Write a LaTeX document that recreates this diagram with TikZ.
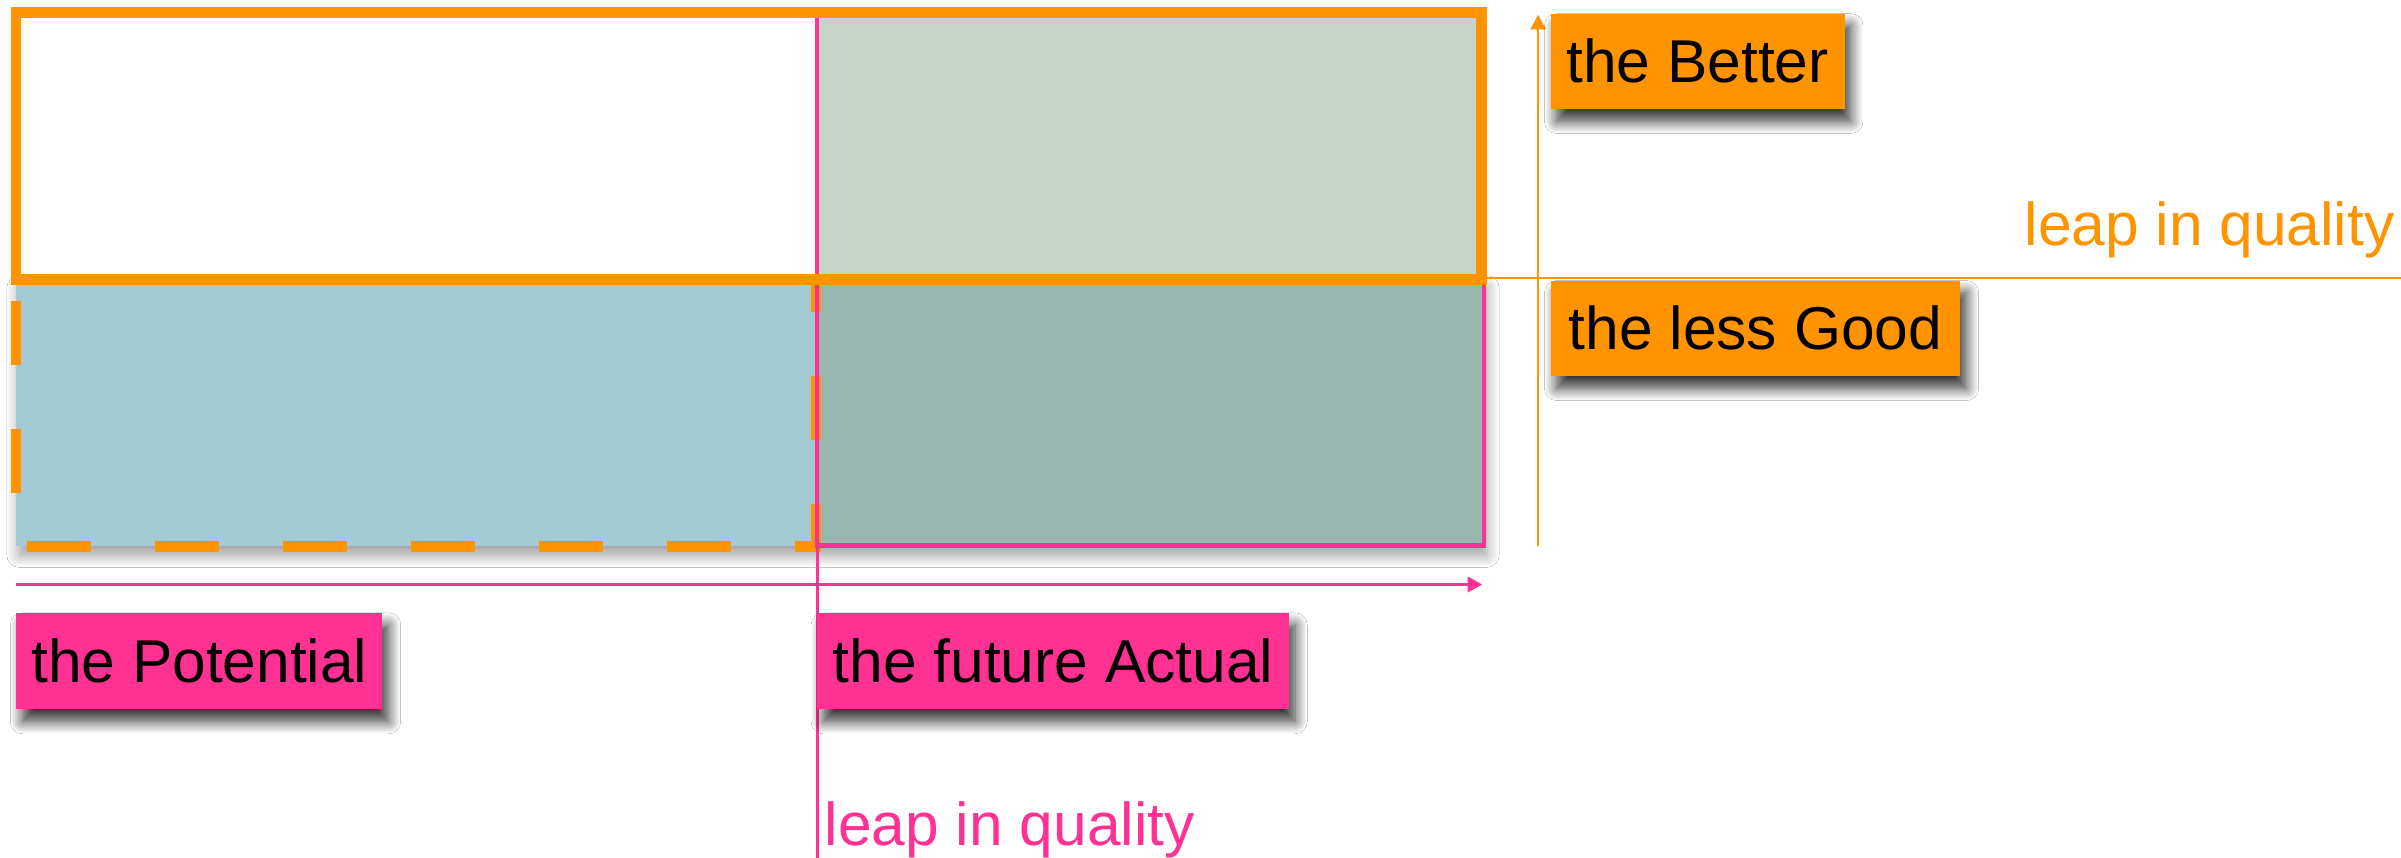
\documentclass[tikz,border=0pt]{standalone}
\usepackage{fontspec}
\setmainfont{Liberation Sans}
\usetikzlibrary{arrows.meta,shadows.blur}
\definecolor{qorange}{RGB}{255,148,0}
\definecolor{qpink}{RGB}{255,50,148}
\definecolor{qblue}{RGB}{163,202,211}
\definecolor{qgrey}{RGB}{200,211,199}
\definecolor{qgreen}{RGB}{152,184,175}
\begin{document}
\begin{tikzpicture}[x=1pt,y=-1pt,
  lab/.style={font=\fontsize{39.5}{47}\selectfont, text=black, inner sep=0pt, anchor=north west,
    blur shadow={shadow xshift=4pt, shadow yshift=-8pt, shadow blur radius=8pt, shadow blur steps=12, shadow opacity=80}},
  olab/.style={lab, fill=qorange},
  plab/.style={lab, fill=qpink},
  thinline/.style={line width=1.5pt},
  tip/.style={-{Triangle[length=9.5pt,width=10pt]}},
  qual/.style={font=\fontsize{39.5}{47}\selectfont, inner sep=0pt}]
\useasboundingbox (0,0) rectangle (1568,560.3);
\fill[white] (0,0) rectangle (1568,560.3);
% quadrant fills
\fill[qgrey] (533,8) rectangle (967,182);
\path[fill=qblue, blur shadow={shadow xshift=2pt, shadow yshift=-6pt, shadow blur radius=8pt, shadow blur steps=12, shadow opacity=40}]
  (10.5,182) rectangle (969,356.5);
\fill[qgreen] (533,182) rectangle (969,356.5);
% dashed orange rectangle (potential)
\draw[qorange, line width=6.8pt, dash pattern=on 41.6pt off 42pt, dash phase=20.6pt]
  (533,182.5) -- (533,356.9) -- (10.5,356.9) -- (10.5,182.5) -- cycle;
% pink rectangle (future actual)
\draw[qpink, line width=3pt] (533.5,9) rectangle (969,356.2);
% solid orange rectangle (better)
\draw[qorange, line width=6.8pt] (10.5,8.2) rectangle (967.5,182.5);
% axes
\coordinate (pv1) at (534,357.5);
\coordinate (pv2) at (534,560.3);
\draw[qpink, line width=1.7pt] (pv1) -- (pv2);
\coordinate (ph1) at (10.5,381.7);
\coordinate (ph2) at (968,381.7);
\draw[qpink, thinline, tip] (ph1) -- (ph2);
\coordinate (ov1) at (1004.5,356.5);
\coordinate (ov2) at (1004.5,9.7);
\draw[qorange, thinline, tip] (ov1) -- (ov2);
\coordinate (oh1) at (970,181.4);
\coordinate (oh2) at (1568,181.4);
\draw[qorange, thinline] (oh1) -- (oh2);
% labels
\node[olab, minimum width=192pt, minimum height=62.3pt] (better) at (1012.4,8.7) {the Better};
\node[olab, minimum width=267.6pt, minimum height=62.4pt] (lessgood) at (1012.4,183) {the less Good};
\node[plab, minimum width=239pt, minimum height=63pt] (potential) at (10.5,400) {the Potential};
\node[plab, minimum width=308pt, minimum height=63pt] (actual) at (533.5,400) {the future Actual};
\node[qual, text=qorange, anchor=base east] (leapo) at (1564,160) {leap in quality};
\node[qual, text=qpink, anchor=base west] (leapp) at (538.5,552) {leap in quality};
\end{tikzpicture}
\end{document}
